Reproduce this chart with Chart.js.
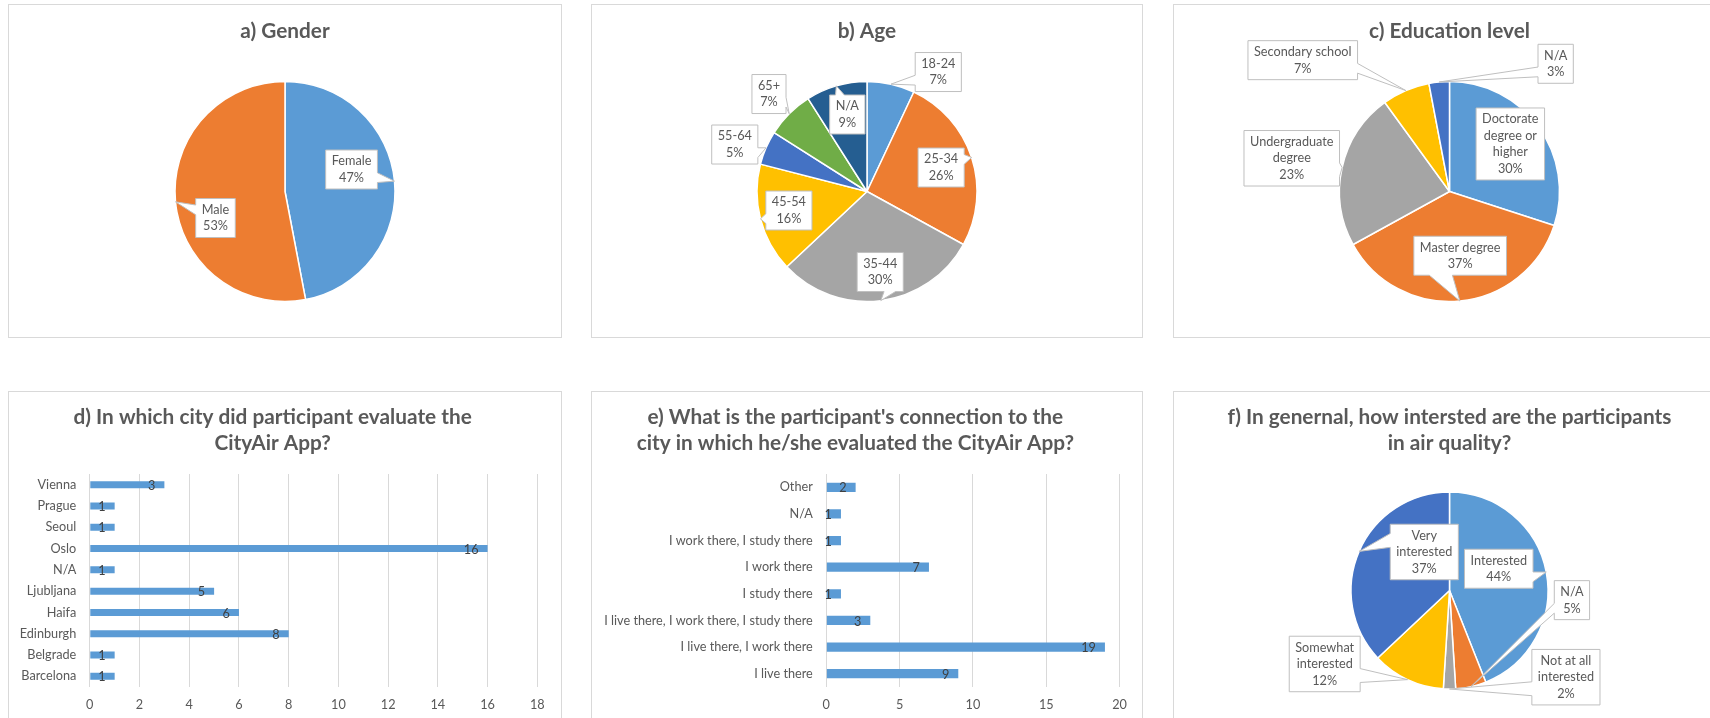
<!DOCTYPE html>
<html>
<head>
<meta charset="utf-8">
<title>CityAir participants</title>
<script src="https://cdn.jsdelivr.net/npm/chart.js@4.4.0/dist/chart.umd.min.js"></script>
<style>
html, body { margin:0; padding:0; background:#fff; overflow:hidden; width:1710px; height:718px; }
.panel { position:absolute; border:1px solid #D9D9D9; box-sizing:border-box; }
.panel canvas { position:absolute; left:-1px; top:-1px; }
</style>
</head>
<body>
<div class="panel" style="left:8px;top:4px;width:554px;height:334px"><canvas id="genderChart" width="554" height="334"></canvas></div>
<div class="panel" style="left:591px;top:4px;width:552px;height:334px"><canvas id="ageChart" width="552" height="334"></canvas></div>
<div class="panel" style="left:1173px;top:4px;width:553px;height:334px"><canvas id="eduChart" width="553" height="334"></canvas></div>
<div class="panel" style="left:8px;top:391px;width:554px;height:340px"><canvas id="cityChart" width="554" height="340"></canvas></div>
<div class="panel" style="left:591px;top:391px;width:552px;height:340px"><canvas id="connChart" width="552" height="340"></canvas></div>
<div class="panel" style="left:1173px;top:391px;width:553px;height:340px"><canvas id="interestChart" width="553" height="340"></canvas></div>
<script>
// data (pies are in %, bars are counts of participants)
var genderLabels = ['Female', 'Male'];
var genderPct = [47, 53];

var ageLabels = ['18-24', '25-34', '35-44', '45-54', '55-64', '65+', 'N/A'];
var agePct = [7, 26, 30, 16, 5, 7, 9];

var eduLabels = ['Doctorate degree or higher', 'Master degree', 'Undergraduate degree', 'Secondary school', 'N/A'];
var eduPct = [30, 37, 23, 7, 3];

// bottom to top, as in the sheet
var cityLabels = ['Barcelona', 'Belgrade', 'Edinburgh', 'Haifa', 'Ljubljana', 'N/A', 'Oslo', 'Seoul', 'Prague', 'Vienna'];
var cityCounts = [1, 1, 8, 6, 5, 1, 16, 1, 1, 3];

var connLabels = ['I live there', 'I live there, I work there', 'I live there, I work there, I study there', 'I study there',
                  'I work there', 'I work there, I study there', 'N/A', 'Other'];
var connCounts = [9, 19, 3, 1, 7, 1, 1, 2];

var interestLabels = ['Interested', 'N/A', 'Not at all interested', 'Somewhat interested', 'Very interested'];
var interestPct = [44, 5, 2, 12, 37];

// office colours
var BLUE = '#5B9BD5', ORANGE = '#ED7D31', GREY = '#A5A5A5', GOLD = '#FFC000',
    DBLUE = '#4472C4', GREEN = '#70AD47', NAVY = '#255E91';
var FONT = 'Lato';
var TEXT = '#595959';
var LBL = 12.7;          // label font size
var TITLE = 20.8;        // title font size
var LINE_H = 16.5, PADX = 6, PADY = 3;

// callout box centres, in pie radii from the pie centre
var genderCallout = [[0.605, -0.2], [-0.632, 0.241]];
var ageCallout = [[0.648, -1.086], [0.674, -0.218], [0.12, 0.732], [-0.71, 0.173], [-1.202, -0.427], [-0.891, -0.886], [-0.179, -0.7]];
var eduCallout = [[0.553, -0.432], [0.097, 0.584], [-1.434, -0.302], [-1.334, -1.194], [0.965, -1.161]];
var eduWrap = [60, 110, 90, 130, 60];
var interestCallout = [[0.5, -0.221], [1.243, 0.098], [1.182, 0.88], [-1.267, 0.746], [-0.256, -0.391]];
var interestWrap = [75, 60, 62, 70, 62];

Chart.defaults.font.family = FONT;
Chart.defaults.color = TEXT;

function wrapText(ctx, txt, maxW){
	var words = txt.split(' ');
	var lines = [];
	var cur = '';
	for(var i=0; i<words.length; i++){
		var test = cur ? cur + ' ' + words[i] : words[i];
		if(cur && ctx.measureText(test).width > maxW){
			lines.push(cur);
			cur = words[i];
		}else{
			cur = test;
		}
	}
	lines.push(cur);
	return lines;
}

// excel style wedge callout (rectangle + wedge pointing at the slice)
function drawCallout(ctx, l, t, w, h, tx, ty){
	var r = l + w, b = t + h;
	var dx = tx - (l + w/2), dy = ty - (t + h/2);
	ctx.beginPath();
	if(tx >= l && tx <= r && ty >= t && ty <= b){
		ctx.rect(l, t, w, h);
	}else{
		var dz = Math.abs(dy) - Math.abs(dx * h / w);
		var x1 = l + w*(dx>0?7:2)/12, x2 = l + w*(dx>0?10:5)/12;
		var y1 = t + h*(dy>0?7:2)/12, y2 = t + h*(dy>0?10:5)/12;
		ctx.moveTo(l, t);
		if(dz > 0 && dy < 0){ ctx.lineTo(x1, t); ctx.lineTo(tx, ty); ctx.lineTo(x2, t); }
		ctx.lineTo(r, t);
		if(dz <= 0 && dx > 0){ ctx.lineTo(r, y1); ctx.lineTo(tx, ty); ctx.lineTo(r, y2); }
		ctx.lineTo(r, b);
		if(dz > 0 && dy > 0){ ctx.lineTo(x2, b); ctx.lineTo(tx, ty); ctx.lineTo(x1, b); }
		ctx.lineTo(l, b);
		if(dz <= 0 && dx < 0){ ctx.lineTo(l, y2); ctx.lineTo(tx, ty); ctx.lineTo(l, y1); }
		ctx.closePath();
	}
	ctx.fillStyle = '#FFFFFF';
	ctx.fill();
	ctx.strokeStyle = '#BFBFBF';
	ctx.lineWidth = 1;
	ctx.stroke();
}

var calloutPlugin = {
	id : 'callouts',
	afterDatasetsDraw : function(chart, args, opts){
		var ctx = chart.ctx;
		var meta = chart.getDatasetMeta(0);
		var data = chart.data.datasets[0].data;
		ctx.save();
		ctx.font = LBL + 'px ' + FONT;
		meta.data.forEach(function(arc, i){
			var p = arc.getProps(['x', 'y', 'startAngle', 'endAngle', 'outerRadius'], true);
			var mid = (p.startAngle + p.endAngle) / 2;
			var tx = p.x + Math.cos(mid) * p.outerRadius;
			var ty = p.y + Math.sin(mid) * p.outerRadius;
			var lines = wrapText(ctx, chart.data.labels[i], opts.wrap ? opts.wrap[i] : 999);
			lines.push(data[i] + '%');
			var tw = 0;
			lines.forEach(function(s){ tw = Math.max(tw, ctx.measureText(s).width); });
			var w = tw + 2*PADX, h = lines.length*LINE_H + 2*PADY;
			var cx = p.x + opts.pos[i][0] * p.outerRadius;
			var cy = p.y + opts.pos[i][1] * p.outerRadius;
			drawCallout(ctx, cx - w/2, cy - h/2, w, h, tx, ty);
			ctx.fillStyle = TEXT;
			ctx.textAlign = 'center';
			ctx.textBaseline = 'middle';
			lines.forEach(function(s, k){
				ctx.fillText(s, cx, cy - h/2 + PADY + LINE_H*(k + 0.5));
			});
		});
		ctx.restore();
	}
};

var barValuePlugin = {
	id : 'barValues',
	afterDatasetsDraw : function(chart){
		var ctx = chart.ctx;
		var meta = chart.getDatasetMeta(0);
		var data = chart.data.datasets[0].data;
		ctx.save();
		ctx.font = LBL + 'px ' + FONT;
		ctx.fillStyle = '#404040';
		ctx.textAlign = 'right';
		ctx.textBaseline = 'middle';
		meta.data.forEach(function(bar, i){
			ctx.fillText(data[i], bar.x - 9, bar.y + 1);
		});
		ctx.restore();
	}
};

function titleOpts(text, padTop, padBottom){
	return {
		display : true,
		text : text,
		color : TEXT,
		font : { family: FONT, size: TITLE, weight: 'bold', lineHeight: 26 / TITLE },
		padding : { top: padTop, bottom: padBottom }
	};
}

function makePie(id, title, labels, values, colors, radius, callout, wrap, padBottom, titlePad){
	new Chart(document.getElementById(id), {
		type : 'pie',
		data : {
			labels : labels,
			datasets : [{
				data : values,
				backgroundColor : colors,
				borderColor : '#FFFFFF',
				borderWidth : 1.5,
				radius : radius
			}]
		},
		options : {
			responsive : false,
			animation : false,
			events : [],
			layout : { padding: { left: 0, right: 0, top: 0, bottom: padBottom } },
			plugins : {
				legend : { display: false },
				tooltip : { enabled: false },
				title : titleOpts(title, titlePad[0], titlePad[1]),
				callouts : { pos: callout, wrap: wrap }
			}
		},
		plugins : [calloutPlugin]
	});
}

function makeBar(id, title, labels, values, max, step, axisW, padRight, barPct){
	new Chart(document.getElementById(id), {
		type : 'bar',
		data : {
			labels : labels,
			datasets : [{
				data : values,
				backgroundColor : BLUE,
				barPercentage : barPct,
				categoryPercentage : 1
			}]
		},
		options : {
			indexAxis : 'y',
			responsive : false,
			animation : false,
			events : [],
			layout : { padding: { left: 0, right: padRight, top: 0, bottom: 14 } },
			scales : {
				x : {
					min : 0, max : max,
					ticks : { stepSize: step, padding: 10, color: TEXT, font: { size: LBL } },
					grid : { color: '#D9D9D9', drawTicks: false },
					border : { display: false },
					afterFit : function(s){ s.height = 30; }
				},
				y : {
					reverse : true,
					ticks : { padding: 13.5, color: TEXT, font: { size: LBL }, autoSkip: false },
					grid : { display: false, drawTicks: false },
					border : { display: false },
					afterFit : function(s){ s.width = axisW; }
				}
			},
			plugins : {
				legend : { display: false },
				tooltip : { enabled: false },
				title : titleOpts(title, 13, 18)
			}
		},
		plugins : [barValuePlugin]
	});
}

makePie('genderChart', 'a) Gender', genderLabels, genderPct, [BLUE, ORANGE], 110, genderCallout, null, 0, [14, 1]);
makePie('ageChart', 'b) Age', ageLabels, agePct, [BLUE, ORANGE, GREY, GOLD, DBLUE, GREEN, NAVY], 110, ageCallout, null, 0, [14, 1]);
makePie('eduChart', 'c) Education level', eduLabels, eduPct, [BLUE, ORANGE, GREY, GOLD, DBLUE], 110, eduCallout, eduWrap, 0, [14, 1]);
makeBar('cityChart', ['d) In which city did participant evaluate the', 'CityAir App?'], cityLabels, cityCounts, 18, 2, 81.8, 24.7, 0.33);
makeBar('connChart', ["e) What is the participant's connection to the", 'city in which he/she evaluated the CityAir App?'], connLabels, connCounts, 20, 5, 235.3, 23.4, 0.35);
makePie('interestChart', ['f) In genernal, how intersted are the participants', 'in air quality?'], interestLabels, interestPct, [BLUE, ORANGE, GREY, GOLD, DBLUE], 98.5, interestCallout, interestWrap, 6, [13, 0]);
</script>
</body>
</html>
